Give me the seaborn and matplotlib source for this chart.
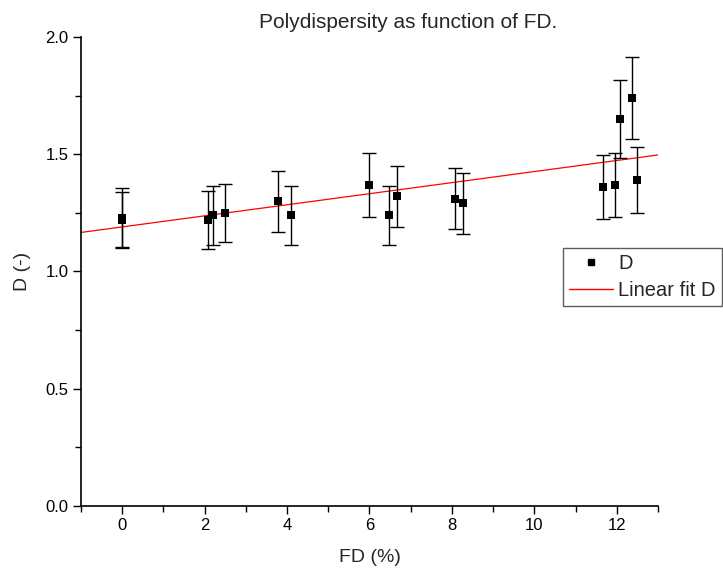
import numpy as np
import pandas as pd
import matplotlib
matplotlib.use("Agg")
import matplotlib.pyplot as plt
from matplotlib.ticker import MultipleLocator
from matplotlib.lines import Line2D
import seaborn as sns

# values
fd = [0.0, 0.0, 2.09, 2.2, 2.5, 3.79, 4.1, 5.99, 6.48, 6.68, 8.08, 8.28,
      11.67, 11.97, 12.07, 12.37, 12.48]
d_val = [1.23, 1.22, 1.22, 1.24, 1.25, 1.30, 1.24, 1.37, 1.24, 1.32, 1.31, 1.29,
         1.36, 1.37, 1.65, 1.74, 1.39]
d_err = [0.125, 0.12, 0.123, 0.125, 0.125, 0.13, 0.125, 0.137, 0.125, 0.13, 0.13, 0.13,
         0.136, 0.136, 0.166, 0.175, 0.14]

fit_intercept = 1.19
fit_slope = 0.0236

x_ticks = [0, 2, 4, 6, 8, 10, 12]
y_ticks = [0.0, 0.5, 1.0, 1.5, 2.0]


def main():
    sns.set_style("ticks")
    plt.rcParams["font.family"] = ["Liberation Sans", "DejaVu Sans"]

    fig = plt.figure(figsize=(7.23, 5.72), dpi=100)
    ax = fig.add_axes([0.112, 0.1154, 0.798, 0.82])

    df = pd.DataFrame({"FD": fd, "D": d_val, "err": d_err})

    ax.errorbar(df["FD"], df["D"], yerr=df["err"], fmt="none", ecolor="black",
                elinewidth=1.0, capsize=5, capthick=1.0, zorder=2)
    sns.scatterplot(data=df, x="FD", y="D", marker="s", color="black", s=30,
                    edgecolor="black", linewidth=0, ax=ax, zorder=3)

    x0, x1 = -1, 13
    fit = pd.DataFrame({"x": [x0, x1],
                        "y": [fit_intercept + fit_slope * x0, fit_intercept + fit_slope * x1]})
    sns.lineplot(data=fit, x="x", y="y", color="red", lw=0.9, ax=ax, zorder=1)

    ax.set_xlim(x0, x1)
    ax.set_ylim(0, 2.0)
    ax.set_xticks(x_ticks)
    ax.set_yticks(y_ticks)
    ax.set_yticklabels([f"{v:.1f}" for v in y_ticks])
    ax.xaxis.set_minor_locator(MultipleLocator(1))
    ax.yaxis.set_minor_locator(MultipleLocator(0.25))
    ax.tick_params(which="major", direction="out", length=6, width=1, labelsize=12,
                   pad=3, color="black", labelcolor="black")
    ax.tick_params(which="minor", direction="out", length=4, width=1, color="black")
    sns.despine(ax=ax)
    for s in ["left", "bottom"]:
        ax.spines[s].set_color("black")
        ax.spines[s].set_linewidth(1.2)

    ax.set_xlabel("FD (%)", fontsize=14, labelpad=11)
    ax.set_ylabel("D (-)", fontsize=14, labelpad=10)
    fig.text(408 / 723, 1 - 22 / 572, "Polydispersity as function of FD.",
             ha="center", va="center", fontsize=15)

    handles = [
        Line2D([], [], marker="s", color="black", linestyle="none", markersize=4.5),
        Line2D([], [], color="red", lw=1.0),
    ]
    leg = fig.legend(handles, ["D", "Linear fit D"], loc="upper left",
                     bbox_to_anchor=(563 / 723, 1 - 248 / 572), fontsize=14.5,
                     frameon=True, fancybox=False, borderpad=0.3, labelspacing=0.4,
                     handlelength=2.2, handletextpad=0.25, borderaxespad=0)
    leg.get_frame().set_edgecolor("#333333")
    leg.get_frame().set_linewidth(1.0)

    fig.savefig("out.png", dpi=100)


if __name__ == "__main__":
    main()
